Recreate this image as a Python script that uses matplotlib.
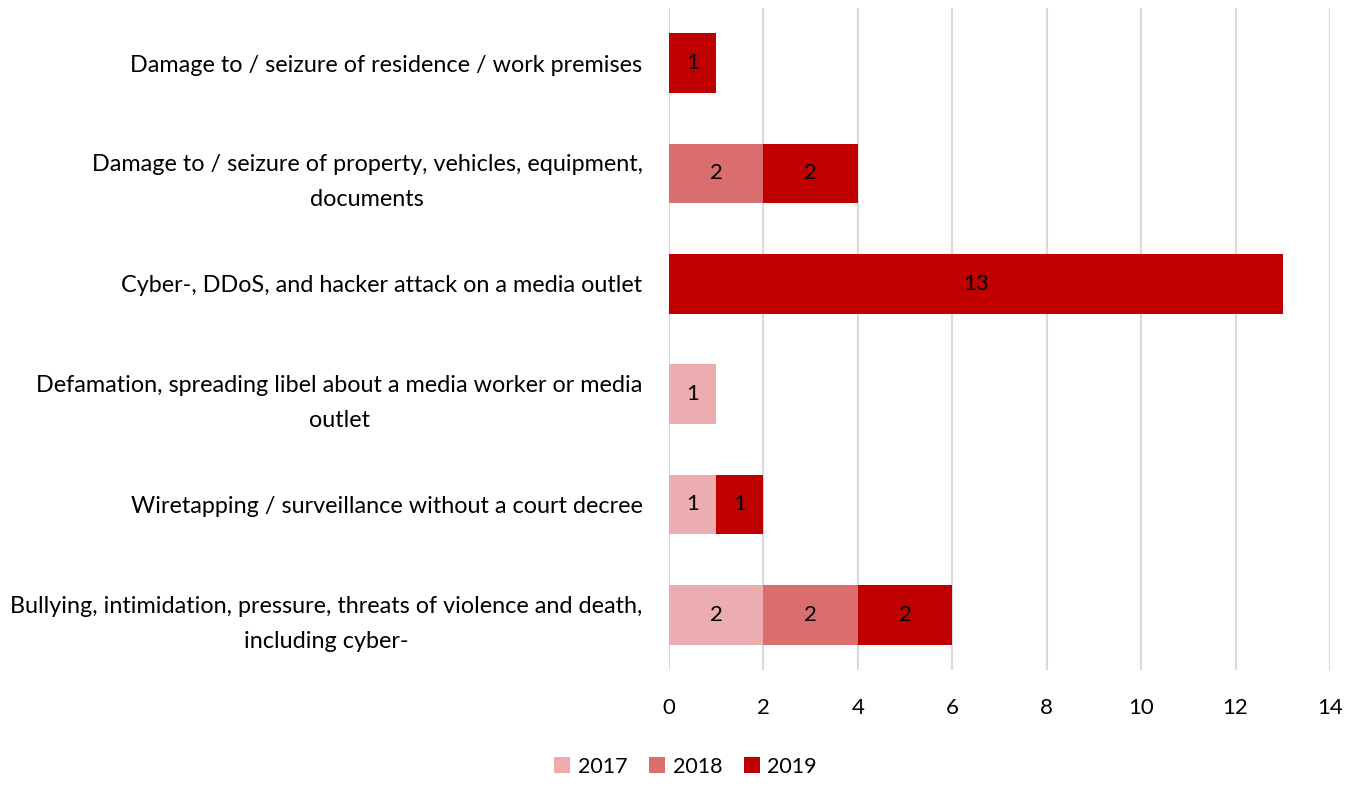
import numpy as np
import matplotlib.pyplot as plt

plt.rcParams['font.family'] = ['Lato', 'DejaVu Sans']

# ---------------- Data (top to bottom) ----------------
categories = [
    'Damage to / seizure of residence / work premises',
    'Damage to / seizure of property, vehicles, equipment,\ndocuments',
    'Cyber-, DDoS, and hacker attack on a media outlet',
    'Defamation, spreading libel about a media worker or media\noutlet',
    'Wiretapping / surveillance without a court decree',
    'Bullying, intimidation, pressure, threats of violence and death,\nincluding cyber-',
]
years = ['2017', '2018', '2019']
v2017 = [0, 0, 0, 1, 1, 2]
v2018 = [0, 2, 0, 0, 0, 2]
v2019 = [1, 2, 13, 0, 1, 2]
colors = ['#EBADAF', '#DA6E6F', '#C00000']

# ---------------- Figure ----------------
fig = plt.figure(figsize=(13.52, 7.96), dpi=100)
ax = fig.add_axes([0.4948, 0.1583, 0.4889, 0.8317])

y = np.arange(len(categories))
left = np.zeros(len(categories))
for name, vals, col in zip(years, [v2017, v2018, v2019], colors):
    vals = np.array(vals, dtype=float)
    bars = ax.barh(y, vals, left=left, height=0.54, color=col, label=name, zorder=3)
    for b, v in zip(bars, vals):
        if v > 0:
            ax.text(b.get_x() + b.get_width() / 2, b.get_y() + b.get_height() / 2,
                    f'{int(v)}', ha='center', va='center', fontsize=16, color='black', zorder=4)
    left += vals

ax.set_xlim(0, 14)
ax.set_ylim(len(categories) - 0.5, -0.5)
ax.set_xticks(np.arange(0, 15, 2))
ax.set_yticks(y)
ax.set_yticklabels(categories, fontsize=16.8, linespacing=1.82,
                   ha='right', multialignment='center')
ax.tick_params(axis='y', length=0, pad=19)
ax.tick_params(axis='x', length=0, labelsize=16, pad=20)

ax.grid(axis='x', color='#D9D9D9', linewidth=1.5, zorder=0)
for s in ax.spines.values():
    s.set_visible(False)

fig.legend(loc='lower center', bbox_to_anchor=(0.507, 0.0), ncol=3, frameon=False,
           fontsize=15.5, handlelength=0.75, handleheight=0.75, handletextpad=0.35,
           columnspacing=1.0)

plt.savefig('out.png', dpi=100)
